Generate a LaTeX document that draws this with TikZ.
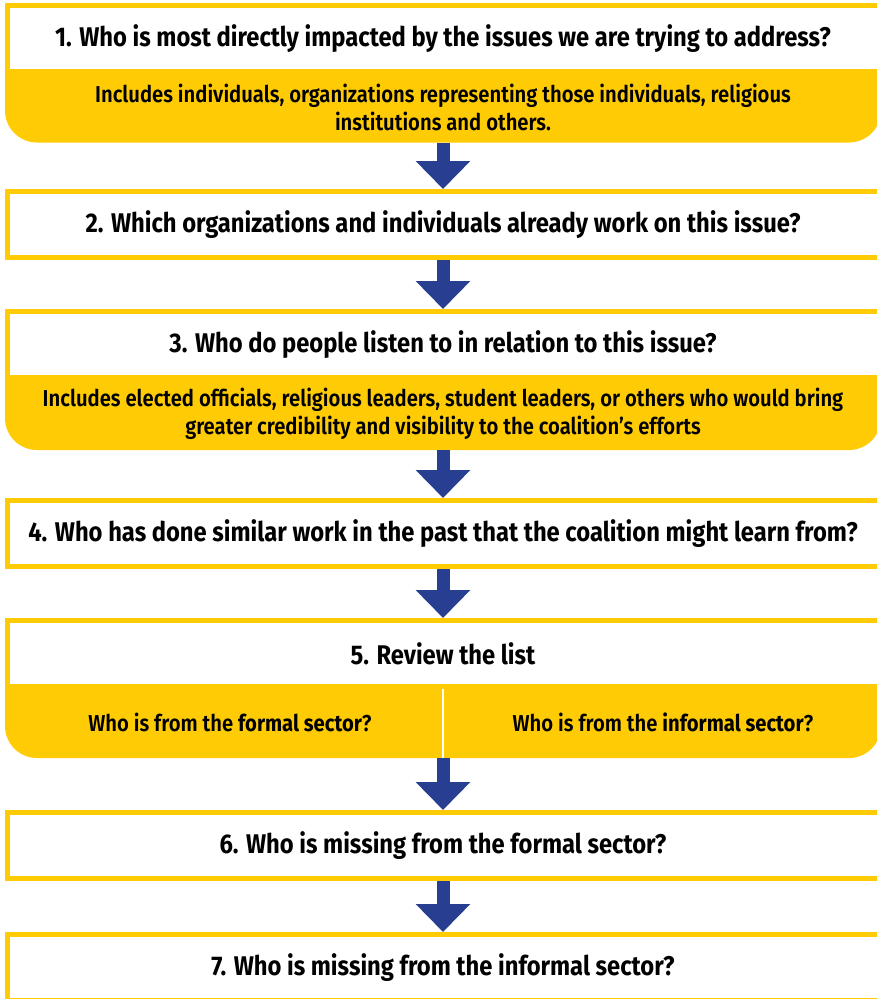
\documentclass[tikz,border=0pt]{standalone}
\usepackage{fontspec}
\setmainfont{Fira Sans}[UprightFont=* SemiBold, BoldFont=* Bold, FakeStretch=0.88]
\usetikzlibrary{positioning,arrows.meta,backgrounds}
\definecolor{qyellow}{HTML}{FFCB05}
\definecolor{qblue}{HTML}{283F91}
\tikzset{
  question/.style={fill=white, outer sep=0pt, inner sep=0pt,
    minimum width=871pt, minimum height=66pt, font=\fontsize{27}{30}\selectfont\bfseries},
  frame/.style={draw=qyellow, line width=5pt},
  detail/.style={fill=qyellow, rounded corners=32pt, outer sep=0pt, inner sep=0pt,
    minimum width=876pt, minimum height=71pt, align=center, font=\fontsize{23}{28}\selectfont},
  sidetext/.style={inner sep=0pt, font=\fontsize{23}{28}\selectfont},
  flow/.style={draw=qblue, line width=13pt, -{Triangle[width=53pt,length=28pt]}, shorten >=2.5pt},
}

\begin{document}
\begin{tikzpicture}[x=1pt, y=-1pt]
  \useasboundingbox (0,0) rectangle (876,999);

  % Define nodes
  \node[question] (q1) at (443,38.5) {1. Who is most directly impacted by the issues we are trying to address?};
  \node[detail, below=0pt of q1] (s1) {Includes individuals, organizations representing those individuals, religious\\institutions and others.};
  \node[question, below=49pt of s1] (q2) {2. Which organizations and individuals already work on this issue?};
  \node[question, below=54pt of q2] (q3) {3. Who do people listen to in relation to this issue?};
  \node[detail, below=0pt of q3, minimum height=72.5pt] (s3) {Includes elected officials, religious leaders, student leaders, or others who would bring\\greater credibility and visibility to the coalition’s efforts};
  \node[question, below=50.5pt of s3] (q4) {4. Who has done similar work in the past that the coalition might learn from?};
  \node[question, below=54pt of q4] (q5) {5. Review the list};
  \node[detail, below=0pt of q5, minimum height=71.5pt] (s5) {};
  \node[sidetext] (formal) at ([xshift=-213pt]s5.center) {Who is from the \textbf{formal sector}?};
  \node[sidetext] (informal) at ([xshift=220pt]s5.center) {Who is from the \textbf{informal sector}?};
  \node[question, below=54.5pt of s5] (q6) {6. Who is missing from the formal sector?};
  \node[question, below=56pt of q6] (q7) {7. Who is missing from the informal sector?};

  % yellow frames, open to the right
  \foreach \q in {q1,q2,q3,q4,q5,q6,q7}
    \draw[frame] ([xshift=10pt]\q.north east) -- (\q.north west) -- (\q.south west) -- ([xshift=10pt]\q.south east);

  % square off the top of the yellow parts
  \begin{scope}[on background layer]
    \foreach \s in {s1,s3,s5}
      \fill[qyellow] (\s.north west) rectangle (\s.east);
  \end{scope}
  \draw[white, line width=2.5pt] ([yshift=-2.5pt]s5.north) -- (s5.south);

  % Connect the nodes
  \draw[flow] (s1) -- (q2);
  \draw[flow, shorten <=2.5pt] (q2) -- (q3);
  \draw[flow] (s3) -- (q4);
  \draw[flow, shorten <=2.5pt] (q4) -- (q5);
  \draw[flow] (s5) -- (q6);
  \draw[flow, shorten <=2.5pt] (q6) -- (q7);
\end{tikzpicture}
\end{document}
